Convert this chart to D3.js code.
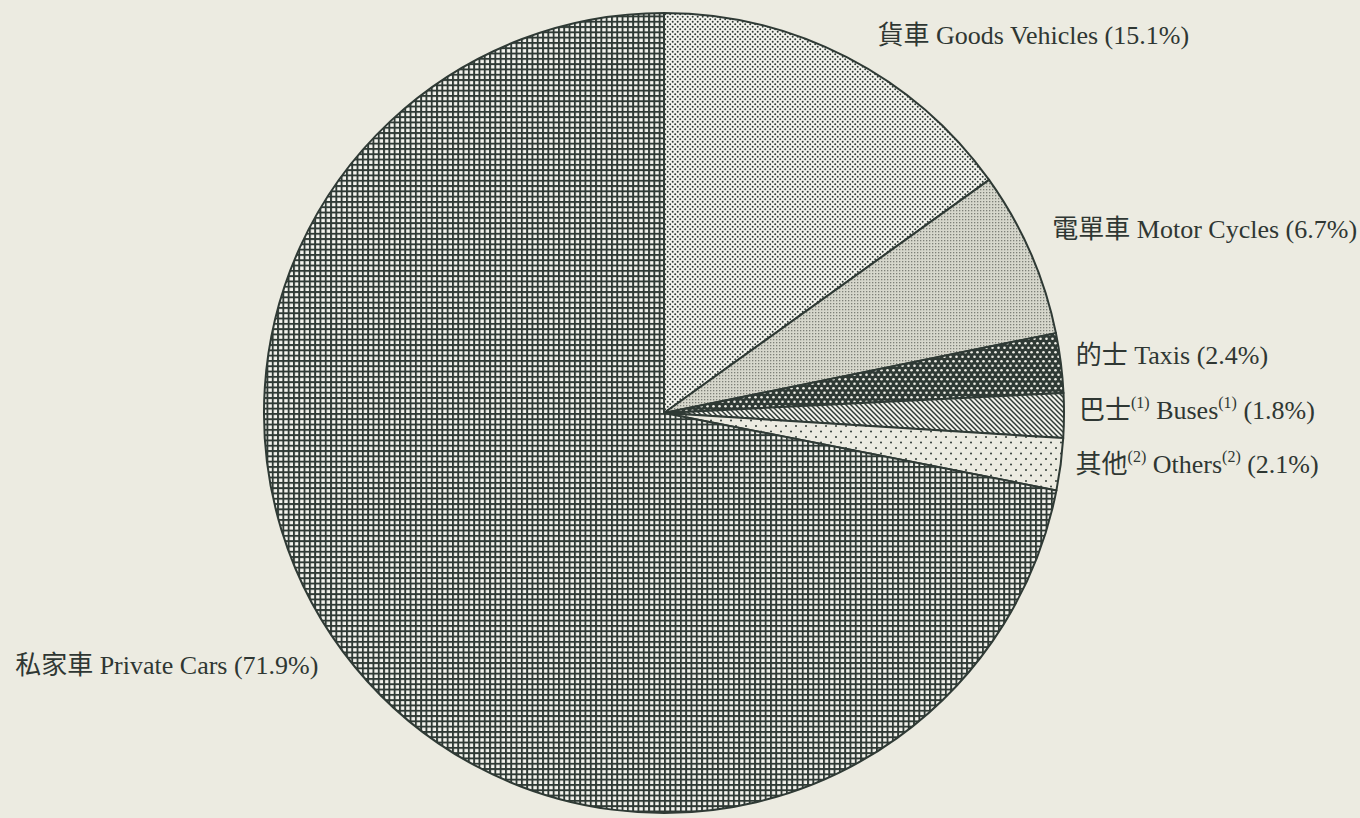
<!DOCTYPE html>
<html lang="zh-Hant">
<head>
  <meta charset="UTF-8">
  <title>Vehicles by type</title>
  <script src="https://d3js.org/d3.v7.min.js"></script>
  <style>
    html, body { margin: 0; padding: 0; background: #ecebe1; }
    svg { display: block; }
    text {
      font-family: "Liberation Serif", "Noto Sans CJK TC", serif;
      font-size: 26px;
      fill: #2f3733;
    }
  </style>
</head>
<body>
  <svg width="1360" height="818"></svg>

  <script>
    // Slices, clockwise from 12 o'clock
    const zhNames = ["貨車", "電單車", "的士", "巴士", "其他", "私家車"];
    const enNames = ["Goods Vehicles", "Motor Cycles", "Taxis", "Buses", "Others", "Private Cars"];
    const notes = [null, null, null, "(1)", "(2)", null];
    const shares = [15.1, 6.7, 2.4, 1.8, 2.1, 71.9];
    const patternIds = ["pGoods", "pMotor", "pTaxi", "pBus", "pOther", "pCar"];

    const svg = d3.select("svg");
    const cx = 664, cy = 413, R = 400;
    const dark = "#2f3a35";

    // hatch patterns
    const defs = svg.append("defs");

    let p = defs.append("pattern").attr("id", "pGoods").attr("patternUnits", "userSpaceOnUse")
      .attr("width", 5).attr("height", 5);
    p.append("rect").attr("width", 5).attr("height", 5).attr("fill", "#f4f4ee");
    p.append("circle").attr("cx", 1.2).attr("cy", 1.2).attr("r", 1).attr("fill", dark);
    p.append("circle").attr("cx", 3.7).attr("cy", 3.7).attr("r", 1).attr("fill", dark);

    p = defs.append("pattern").attr("id", "pMotor").attr("patternUnits", "userSpaceOnUse")
      .attr("width", 3).attr("height", 3);
    p.append("rect").attr("width", 3).attr("height", 3).attr("fill", "#d6d7cc");
    p.append("rect").attr("x", 1).attr("y", 1).attr("width", 1.3).attr("height", 1.3).attr("fill", "#7d8078");

    p = defs.append("pattern").attr("id", "pTaxi").attr("patternUnits", "userSpaceOnUse")
      .attr("width", 6).attr("height", 9);
    p.append("rect").attr("width", 6).attr("height", 9).attr("fill", dark);
    p.append("circle").attr("cx", 1.5).attr("cy", 2.2).attr("r", 1.3).attr("fill", "#eeeee6");
    p.append("circle").attr("cx", 4.5).attr("cy", 6.7).attr("r", 1.3).attr("fill", "#eeeee6");

    p = defs.append("pattern").attr("id", "pBus").attr("patternUnits", "userSpaceOnUse")
      .attr("width", 5).attr("height", 5);
    p.append("rect").attr("width", 5).attr("height", 5).attr("fill", "#f2f2ec");
    p.append("path").attr("d", "M-1,-1 L6,6 M-1,4 L1,6 M4,-1 L6,1")
      .attr("stroke", dark).attr("stroke-width", 1.5);

    p = defs.append("pattern").attr("id", "pOther").attr("patternUnits", "userSpaceOnUse")
      .attr("width", 10).attr("height", 11);
    p.append("rect").attr("width", 10).attr("height", 11).attr("fill", "#ecebe1");
    p.append("circle").attr("cx", 2).attr("cy", 2).attr("r", 1).attr("fill", dark);
    p.append("circle").attr("cx", 7).attr("cy", 7.5).attr("r", 1).attr("fill", dark);

    p = defs.append("pattern").attr("id", "pCar").attr("patternUnits", "userSpaceOnUse")
      .attr("width", 5.3).attr("height", 5.3);
    p.append("rect").attr("width", 5.3).attr("height", 5.3).attr("fill", dark);
    p.append("rect").attr("x", 1.9).attr("y", 1.9).attr("width", 3.4).attr("height", 3.4).attr("fill", "#f4f4ee");

    const pie = d3.pie().sort(null).value(d => d);
    const arcs = pie(shares);
    const arc = d3.arc().innerRadius(0).outerRadius(R);

    const g = svg.append("g").attr("transform", `translate(${cx},${cy})`);

    g.selectAll("path")
      .data(arcs)
      .enter().append("path")
      .attr("d", arc)
      .attr("fill", (d, i) => `url(#${patternIds[i]})`)
      .attr("stroke", dark)
      .attr("stroke-width", 2)
      .attr("stroke-linejoin", "round");

    // labels just outside the rim, nudged a bit for the top two
    const nudge = [[24, -6], [8, -15], [0, -3], [0, -3], [0, 1], [-25, -9]];
    const labelR = R + 15;

    const label = g.selectAll("text.lbl")
      .data(arcs)
      .enter().append("text")
      .attr("class", "lbl")
      .attr("dominant-baseline", "middle")
      .attr("text-anchor", (d, i) => (d.startAngle + d.endAngle) / 2 > Math.PI ? "end" : "start")
      .attr("x", (d, i) => Math.sin((d.startAngle + d.endAngle) / 2) * labelR + nudge[i][0])
      .attr("y", (d, i) => -Math.cos((d.startAngle + d.endAngle) / 2) * labelR + nudge[i][1]);

    label.each(function(d, i) {
      const t = d3.select(this);
      t.append("tspan").text(zhNames[i]);
      if (notes[i]) {
        t.append("tspan").attr("font-size", 16).attr("dy", -9).text(notes[i]);
        t.append("tspan").attr("dy", 9).text(" " + enNames[i]);
        t.append("tspan").attr("font-size", 16).attr("dy", -9).text(notes[i]);
        t.append("tspan").attr("dy", 9).text(" (" + shares[i].toFixed(1) + "%)");
      } else {
        t.append("tspan").text(" " + enNames[i] + " (" + shares[i].toFixed(1) + "%)");
      }
    });
  </script>
</body>
</html>
